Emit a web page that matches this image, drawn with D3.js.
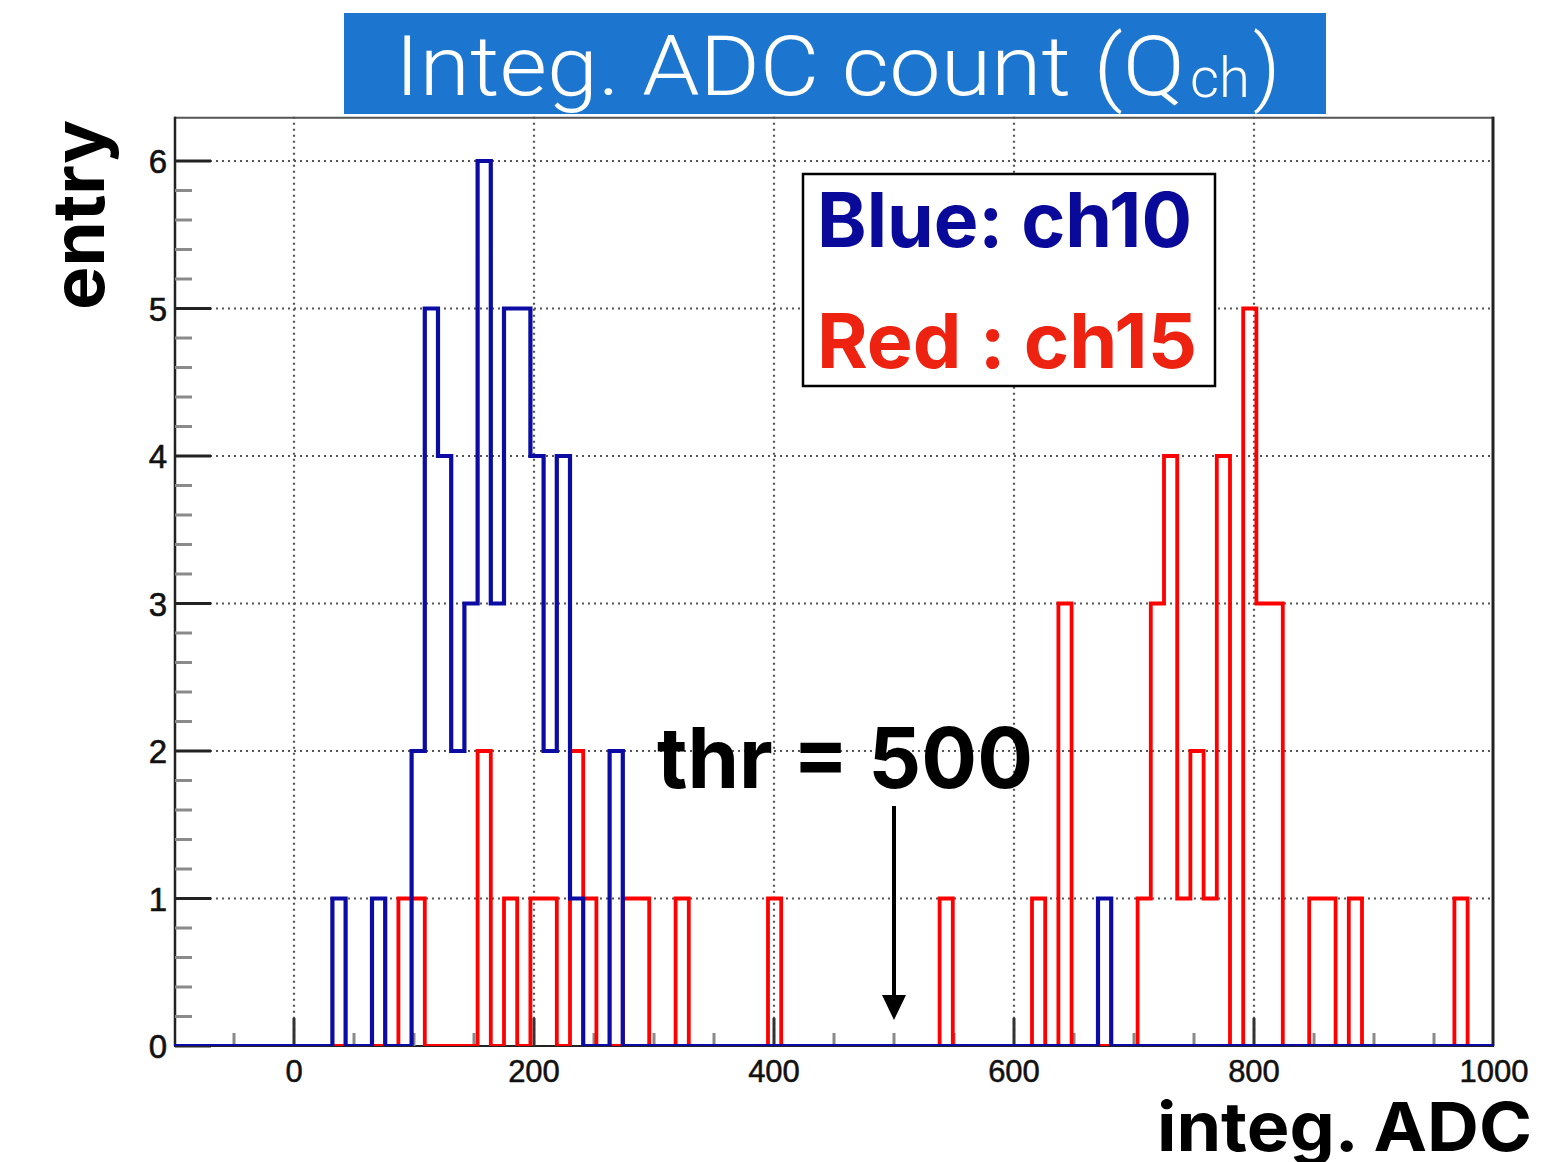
<!DOCTYPE html>
<html>
<head>
<meta charset="utf-8">
<script src="https://d3js.org/d3.v7.min.js"></script>
<style>
  html, body { margin: 0; padding: 0; background: #fff; }
  svg { display: block; }
</style>
</head>
<body>
<script>
// ---- data ----
const binMin = -100;
const binWidth = 11;
const nBins = 100;
const blueBins   = [12, 15, 18, 19, 20, 21, 22, 23, 24, 25, 26, 27, 28, 29, 30, 33, 70];
const blueCounts = [ 1,  1,  2,  5,  4,  2,  3,  6,  3,  5,  5,  4,  2,  4,  1,  2,  1];
const redBins    = [17, 18, 23, 25, 27, 28, 30, 31, 34, 35, 38, 45, 58, 65, 67, 73, 74, 75, 76, 77, 78, 79, 81, 82, 83, 86, 87, 89, 97];
const redCounts  = [ 1,  1,  2,  1,  1,  1,  2,  1,  1,  1,  1,  1,  1,  1,  3,  1,  3,  4,  1,  2,  1,  4,  5,  3,  3,  1,  1,  1,  1];
const xTickLabels = [0, 200, 400, 600, 800, 1000];
const yTickLabels = [0, 1, 2, 3, 4, 5, 6];
const titleMain = "Integ. ADC count (Q";
const titleSub = "ch";
const legendLabels = ["Blue: ch10", "Red : ch15"];
const threshold = 500;
const thrLabel = "thr = 500";
const xTitle = "integ. ADC";
const yTitle = "entry";

// ---- layout ----
const W = 1558, H = 1162;
const svg = d3.select("body").append("svg").attr("width", W).attr("height", H);

const x = d3.scaleLinear().domain([-100, 1000]).range([174, 1494]);
const y = d3.scaleLinear().domain([0, 6.3]).range([1046, 116.75]);

const BLUE = "#0c0ca4", RED = "#ff0000";

// title banner
svg.append("rect").attr("x", 344).attr("y", 13).attr("width", 982).attr("height", 101).attr("fill", "#1c76d0");
svg.append("text").attr("x", 395).attr("y", 95).attr("fill", "#fff")
  .attr("font-family", "Roboto, Lato, 'Liberation Sans', sans-serif").attr("font-weight", 300)
  .attr("font-size", 84).attr("textLength", 790).attr("lengthAdjust", "spacingAndGlyphs").text(titleMain);
svg.append("text").attr("x", 1190).attr("y", 97).attr("fill", "#fff")
  .attr("font-family", "Roboto, Lato, 'Liberation Sans', sans-serif").attr("font-weight", 300)
  .attr("font-size", 56).attr("textLength", 60).attr("lengthAdjust", "spacingAndGlyphs").text(titleSub);
svg.append("text").attr("x", 1253).attr("y", 95).attr("fill", "#fff")
  .attr("font-family", "Roboto, Lato, 'Liberation Sans', sans-serif").attr("font-weight", 300)
  .attr("font-size", 84).text(")");

// grid
const gGrid = svg.append("g").attr("stroke", "#555").attr("stroke-width", 2.2).attr("stroke-dasharray", "2 4");
[0, 200, 400, 600, 800].forEach(v => {
  gGrid.append("line").attr("x1", x(v)).attr("x2", x(v)).attr("y1", y(6.3)).attr("y2", y(0));
});
[1, 2, 3, 4, 5, 6].forEach(v => {
  gGrid.append("line").attr("x1", x(-100)).attr("x2", x(1000)).attr("y1", y(v)).attr("y2", y(v));
});

// frame
svg.append("line").attr("x1", x(-100)).attr("x2", x(1000)).attr("y1", y(6.3) + 1).attr("y2", y(6.3) + 1).attr("stroke", "#555").attr("stroke-width", 2);
svg.append("line").attr("x1", x(1000) - 1).attr("x2", x(1000) - 1).attr("y1", y(6.3)).attr("y2", y(0)).attr("stroke", "#222").attr("stroke-width", 3);
svg.append("line").attr("x1", x(-100) + 1).attr("x2", x(-100) + 1).attr("y1", y(6.3)).attr("y2", y(0)).attr("stroke", "#222").attr("stroke-width", 2.5);
svg.append("line").attr("x1", x(-100)).attr("x2", x(1000)).attr("y1", y(0)).attr("y2", y(0)).attr("stroke", "#222").attr("stroke-width", 2);

// y ticks
const gy = svg.append("g");
d3.range(0, 31).map(i => i * 0.2).filter(v => v <= 6.3).forEach((v, i) => {
  const major = (i % 5 === 0);
  gy.append("line").attr("x1", x(-100) + 1).attr("x2", x(-100) + (major ? 37 : 18))
    .attr("y1", y(v)).attr("y2", y(v))
    .attr("stroke", major ? "#222" : "#8a8a8a").attr("stroke-width", 3);
});
gy.selectAll("text").data(yTickLabels).join("text")
  .attr("x", 167).attr("y", d => y(d) + 12).attr("text-anchor", "end")
  .attr("font-family", "'Liberation Sans', Arial, sans-serif").attr("font-size", 33)
  .attr("fill", "#111").attr("stroke", "#111").attr("stroke-width", 0.6).text(d => d);

// x ticks
const gx = svg.append("g");
d3.range(-50, 1000, 50).forEach(v => {
  const major = (v % 200 === 0);
  gx.append("line").attr("x1", x(v)).attr("x2", x(v)).attr("y1", y(0)).attr("y2", y(0) - (major ? 28 : 13))
    .attr("stroke", major ? "#333" : "#8a8a8a").attr("stroke-width", 3);
});
gx.selectAll("text").data(xTickLabels).join("text")
  .attr("x", d => x(d)).attr("y", 1082).attr("text-anchor", "middle")
  .attr("font-family", "'Liberation Sans', Arial, sans-serif").attr("font-size", 31)
  .attr("fill", "#111").attr("stroke", "#111").attr("stroke-width", 0.5).text(d => d);

// histograms
svg.append("clipPath").attr("id", "plotclip").append("rect")
  .attr("x", x(-100)).attr("y", y(6.3)).attr("width", x(1000) - x(-100)).attr("height", y(0) - y(6.3));

function histPoints(bins, counts) {
  const full = new Array(nBins).fill(0);
  bins.forEach((b, i) => { full[b] = counts[i]; });
  const pts = [];
  full.forEach((c, k) => {
    const lo = binMin + k * binWidth, hi = lo + binWidth;
    pts.push([lo, c]); pts.push([hi, c]);
  });
  return pts;
}
const line = d3.line().x(d => x(d[0])).y(d => y(d[1]));
const gh = svg.append("g").attr("clip-path", "url(#plotclip)");
gh.append("path").attr("d", line(histPoints(redBins, redCounts)))
  .attr("fill", "none").attr("stroke", RED).attr("stroke-width", 3.8).attr("stroke-linejoin", "miter");
gh.append("path").attr("d", line(histPoints(blueBins, blueCounts)))
  .attr("fill", "none").attr("stroke", BLUE).attr("stroke-width", 4.2).attr("stroke-linejoin", "miter");

// legend box
svg.append("rect").attr("x", 803).attr("y", 174).attr("width", 412).attr("height", 212)
  .attr("fill", "#fff").attr("stroke", "#000").attr("stroke-width", 2.5);
svg.append("text").attr("x", 817).attr("y", 247).attr("fill", "#0a0a9a")
  .attr("font-family", "Inter, 'Noto Sans', sans-serif").attr("font-weight", 700).attr("font-size", 76)
  .attr("textLength", 375).attr("lengthAdjust", "spacingAndGlyphs").text(legendLabels[0]);
svg.append("text").attr("x", 817).attr("y", 368).attr("fill", "#ee2211")
  .attr("font-family", "Inter, 'Noto Sans', sans-serif").attr("font-weight", 700).attr("font-size", 76)
  .attr("textLength", 380).attr("lengthAdjust", "spacingAndGlyphs").text(legendLabels[1]);

// threshold annotation
svg.append("text").attr("x", 657).attr("y", 788).attr("fill", "#000")
  .attr("font-family", "Inter, 'Noto Sans', sans-serif").attr("font-weight", 700).attr("font-size", 84)
  .attr("textLength", 376).attr("lengthAdjust", "spacingAndGlyphs").text(thrLabel);
svg.append("line").attr("x1", x(threshold)).attr("x2", x(threshold)).attr("y1", 806).attr("y2", 1000)
  .attr("stroke", "#000").attr("stroke-width", 4);
svg.append("path").attr("d", `M${x(threshold)},1020 L${x(threshold) - 12},995 L${x(threshold) + 12},995 Z`).attr("fill", "#000");

// axis titles
svg.append("text").attr("x", 1157).attr("y", 1151).attr("fill", "#000")
  .attr("font-family", "Inter, 'Noto Sans', sans-serif").attr("font-weight", 700).attr("font-size", 68)
  .attr("textLength", 375).attr("lengthAdjust", "spacingAndGlyphs").text(xTitle);
svg.append("text").attr("transform", "translate(104,215) rotate(-90)").attr("text-anchor", "middle")
  .attr("fill", "#000").attr("font-family", "Inter, 'Noto Sans', sans-serif").attr("font-weight", 700)
  .attr("font-size", 72).attr("textLength", 190).attr("lengthAdjust", "spacingAndGlyphs").text(yTitle);
</script>
</body>
</html>
